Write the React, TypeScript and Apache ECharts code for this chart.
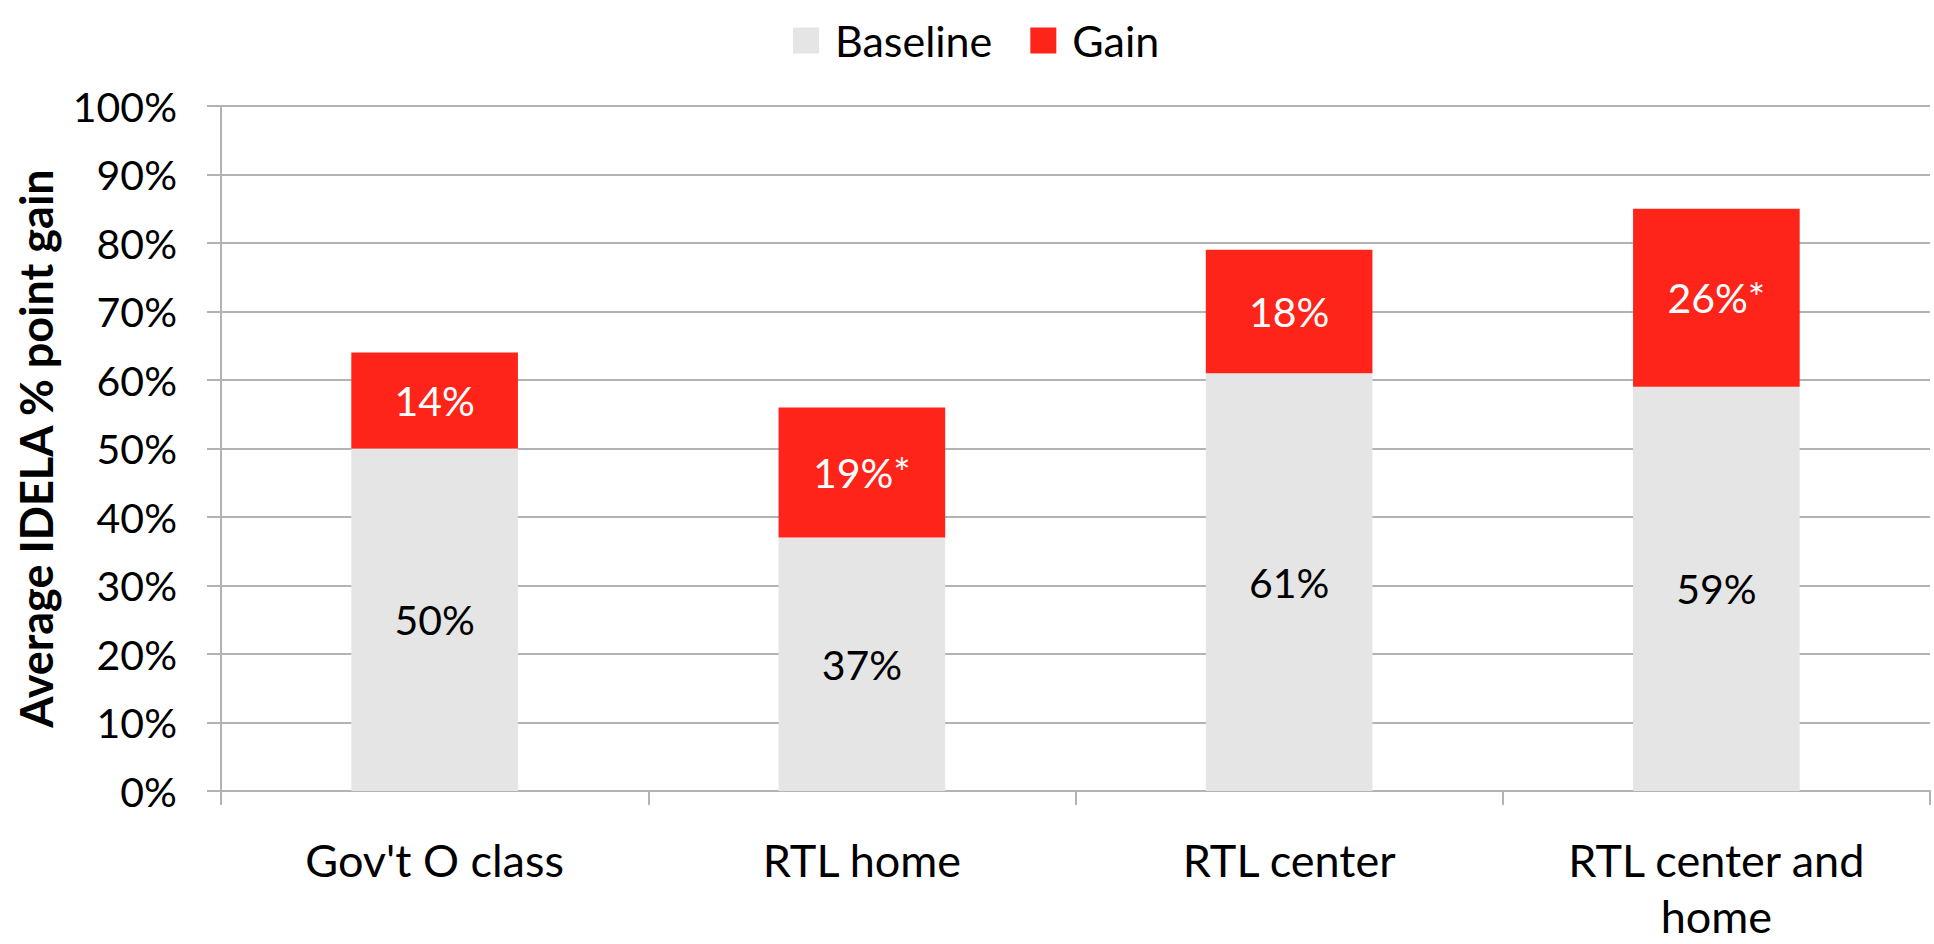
import React, { useEffect, useRef } from "react";
import * as echarts from "echarts";

const categories = ["Gov't O class", "RTL home", "RTL center", "RTL center and home"];
const categoryLabels = ["Gov't O class", "RTL home", "RTL center", "RTL center and\nhome"];
const baseline = [50, 37, 61, 59];
const gain = [14, 19, 18, 26];
const baselineLabels = ["50%", "37%", "61%", "59%"];
const gainLabels = ["14%", "19%*", "18%", "26%*"];
const yTicks = { min: 0, max: 100, interval: 10 };

const FONT = "Lato, 'Open Sans', sans-serif";
const GRID_COLOR = "#B3B3B3";

export default function App() {
  const ref = useRef<HTMLDivElement>(null);
  useEffect(() => {
    document.body.style.margin = "0";
    const chart = echarts.init(ref.current!, undefined, { renderer: "svg" });
    chart.setOption({
      animation: false,
      textStyle: { fontFamily: FONT },
      legend: {
        top: 14,
        left: 788,
        icon: "rect",
        itemWidth: 26,
        itemHeight: 26,
        itemGap: 38,
        textStyle: { fontSize: 43, color: "#000", fontFamily: FONT, padding: [0, 0, 0, 11], lineHeight: 26 },
        data: ["Baseline", "Gain"],
      },
      grid: {
        left: 221,
        right: 4,
        top: 106,
        bottom: 153,
        containLabel: false,
        outerBoundsMode: "none",
      },
      xAxis: {
        type: "category",
        data: categories,
        axisLine: { show: true, lineStyle: { color: GRID_COLOR, width: 2 } },
        axisTick: { show: true, length: 14, lineStyle: { color: GRID_COLOR, width: 2 } },
        axisLabel: {
          fontSize: 45,
          color: "#000",
          fontFamily: FONT,
          margin: 41,
          lineHeight: 56,
          interval: 0,
          formatter: (_v: string, i: number) => categoryLabels[i],
        },
      },
      yAxis: {
        type: "value",
        min: yTicks.min,
        max: yTicks.max,
        interval: yTicks.interval,
        name: "Average IDELA % point gain",
        nameLocation: "middle",
        nameGap: 163,
        nameTextStyle: { fontSize: 45, fontWeight: "bold", color: "#000", fontFamily: FONT },
        axisLine: { show: true, lineStyle: { color: GRID_COLOR, width: 2 } },
        axisTick: { show: true, length: 14, lineStyle: { color: GRID_COLOR, width: 2 } },
        splitLine: { show: true, lineStyle: { color: GRID_COLOR, width: 2 } },
        axisLabel: { fontSize: 41, color: "#000", fontFamily: FONT, margin: 44, formatter: "{value}%" },
      },
      series: [
        {
          name: "Baseline",
          type: "bar",
          stack: "total",
          barWidth: "39%",
          data: baseline,
          itemStyle: { color: "#E5E5E5" },
          label: {
            show: true,
            position: "inside",
            fontSize: 41,
            color: "#000",
            fontFamily: FONT,
            formatter: (p: any) => baselineLabels[p.dataIndex],
          },
        },
        {
          name: "Gain",
          type: "bar",
          stack: "total",
          barWidth: "39%",
          data: gain,
          itemStyle: { color: "#FE2419" },
          label: {
            show: true,
            position: "inside",
            fontSize: 41,
            color: "#fff",
            fontFamily: FONT,
            formatter: (p: any) => gainLabels[p.dataIndex],
          },
        },
      ],
    });
    return () => chart.dispose();
  }, []);
  return <div ref={ref} style={{ width: 1934, height: 944 }} />;
}
